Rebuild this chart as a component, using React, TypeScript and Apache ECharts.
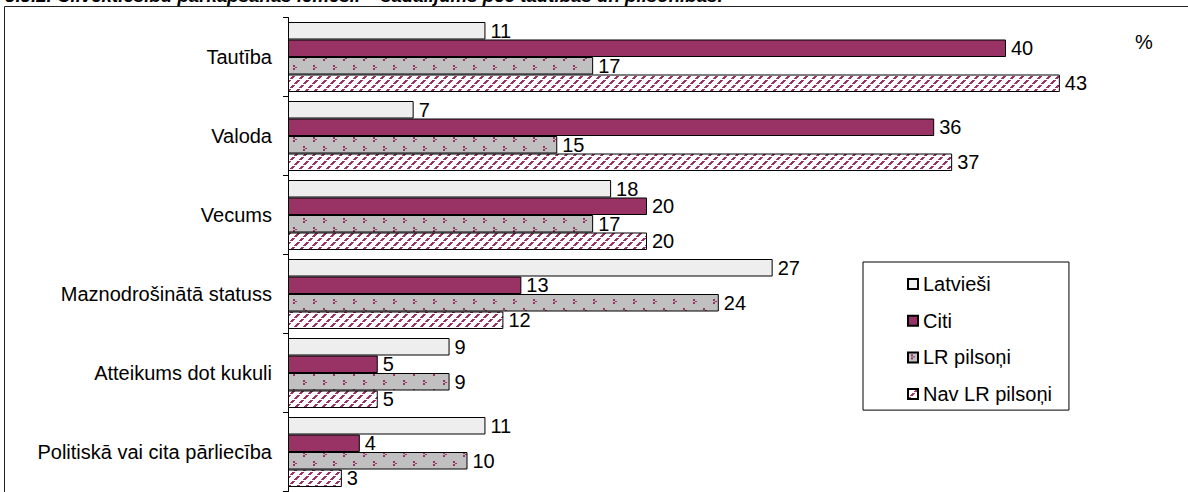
import React, { useEffect, useRef } from "react";
import * as echarts from "echarts";

const categories = [
  "Tautība",
  "Valoda",
  "Vecums",
  "Maznodrošinātā statuss",
  "Atteikums dot kukuli",
  "Politiskā vai cita pārliecība",
];
const seriesNames = ["Latvieši", "Citi", "LR pilsoņi", "Nav LR pilsoņi"];
const latviesi = [11, 7, 18, 27, 9, 11];
const citi = [40, 36, 20, 13, 5, 4];
const lrPilsoni = [17, 15, 17, 24, 9, 10];
const navLrPilsoni = [43, 37, 20, 12, 5, 3];
const titleText =
  "3.3.2. Cilvēktiesību pārkāpšanas iemesli – sadalījums pēc tautības un pilsonības.";

const FONT = 'Arial, "Liberation Sans", Helvetica, sans-serif';
const MAGENTA = "#993366";

function makeTile(w: number, h: number, bg: string, rects: number[][]) {
  const c = document.createElement("canvas");
  c.width = w;
  c.height = h;
  const ctx = c.getContext("2d")!;
  ctx.fillStyle = bg;
  ctx.fillRect(0, 0, w, h);
  ctx.fillStyle = MAGENTA;
  rects.forEach(([x, y, rw, rh]) => ctx.fillRect(x, y, rw, rh));
  return c;
}

export default function App() {
  const ref = useRef<HTMLDivElement>(null);
  useEffect(() => {
    if (!ref.current) return;
    const chart = echarts.init(ref.current, undefined, { renderer: "svg" });

    // small ">" marks, alternating rows
    const mark = (x: number, y: number) => [
      [x, y, 2, 2],
      [x + 2, y + 2, 2, 1],
      [x, y + 3, 2, 2],
    ];
    const dotTile = makeTile(20, 18, "#C0C0C0", [
      ...mark(3, 2),
      ...mark(13, 11),
    ]);
    // dashed "/" diagonal stripes
    const T = 9;
    const hatchRects: number[][] = [];
    for (let i = 0; i < T; i++) {
      if (i % 4 === 3) continue;
      const x = T - 1 - i;
      hatchRects.push([x, i, 3, 1]);
      hatchRects.push([x - T, i, 3, 1]);
    }
    const hatchTile = makeTile(T, T, "#FFFFFF", hatchRects);

    const colors: any[] = [
      "#EEEEEE",
      MAGENTA,
      { image: dotTile, repeat: "repeat" },
      { image: hatchTile, repeat: "repeat" },
    ];
    const datasets = [latviesi, citi, lrPilsoni, navLrPilsoni];

    chart.setOption({
      animation: false,
      backgroundColor: "#FFFFFF",
      grid: { left: 288, right: 38.4, top: 17.5, height: 474, containLabel: false },
      xAxis: {
        type: "value",
        min: 0,
        max: 48,
        show: false,
      },
      yAxis: {
        type: "category",
        data: categories,
        inverse: true,
        axisLine: { show: true, lineStyle: { color: "#000", width: 1 } },
        axisTick: { show: true, length: 5, lineStyle: { color: "#000" } },
        axisLabel: { fontSize: 20, color: "#000", fontFamily: FONT, margin: 16 },
        splitLine: { show: false },
      },
      legend: {
        orient: "vertical",
        left: 863,
        top: 262,
        width: 180,
        padding: [12, 17, 6, 44],
        itemGap: 16.7,
        itemWidth: 10,
        itemHeight: 10,
        icon: "rect",
        backgroundColor: "#FFFFFF",
        borderColor: "#000",
        borderWidth: 1,
        borderRadius: 0,
        textStyle: { fontSize: 20, color: "#000", fontFamily: FONT },
        data: seriesNames,
      },
      graphic: [
        {
          type: "rect",
          z: -10,
          silent: true,
          shape: { x: 4.5, y: 6.5, width: 1300, height: 600 },
          style: { fill: "none", stroke: "#222", lineWidth: 1 },
        },
        {
          type: "text",
          silent: true,
          style: {
            text: titleText,
            x: 5,
            y: 5,
            verticalAlign: "bottom",
            font: `italic bold 18.7px ${FONT}`,
            fill: "#000",
          },
        },
        {
          type: "text",
          silent: true,
          style: {
            text: "%",
            x: 1135,
            y: 42,
            verticalAlign: "middle",
            font: `20px ${FONT}`,
            fill: "#000",
          },
        },
      ],
      series: seriesNames.map((name, i) => ({
        name,
        type: "bar",
        data: datasets[i],
        barWidth: 17.5,
        barGap: "0%",
        itemStyle: { color: colors[i], borderColor: "#000", borderWidth: 1 },
        label: {
          show: true,
          position: "right",
          distance: 5,
          fontSize: 20,
          color: "#000",
          fontFamily: FONT,
        },
      })),
    });
    return () => chart.dispose();
  }, []);
  return (
    <div
      ref={ref}
      style={{ position: "absolute", left: 0, top: 0, width: 1188, height: 492 }}
    />
  );
}
